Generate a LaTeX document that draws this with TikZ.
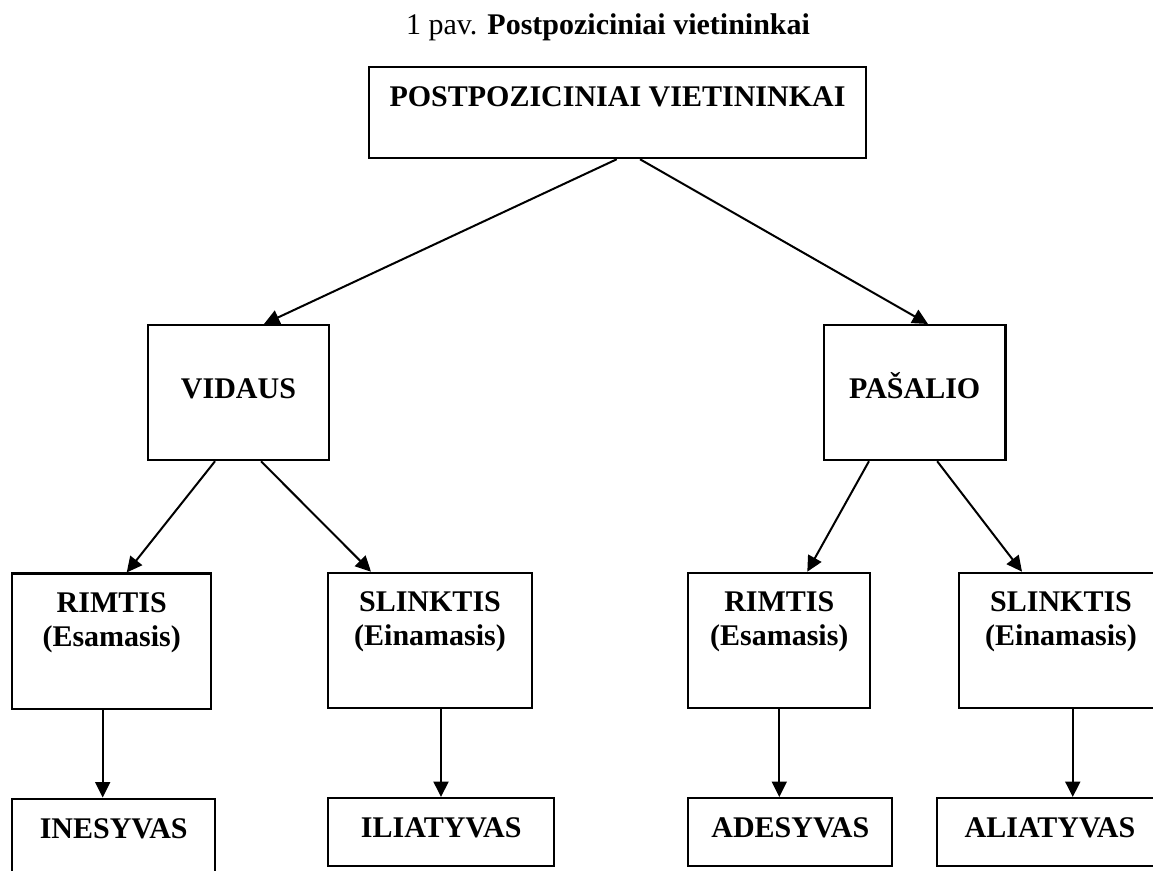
\documentclass[tikz,border=0pt]{standalone}
\usepackage{fontspec}
\setmainfont{Liberation Serif}
\usetikzlibrary{arrows.meta,positioning}
\newcommand{\pavfont}{\fontsize{12pt}{13.8pt}\selectfont}

\tikzset{
  box/.style={draw, line width=0.9pt, inner sep=0pt, anchor=north, align=center, font=\pavfont\bfseries},
  mid/.style={box, text height=29.2pt, text depth=25pt},
  leaf/.style={box, text height=15.9pt, text depth=11.3pt},
  link/.style={line width=0.8pt, -{Triangle[length=6.2pt,width=6pt]}}
}

\begin{document}
\begin{tikzpicture}[x=0.4pt, y=-0.4pt]
\useasboundingbox (0,0) rectangle (1153,871);
\clip (0,0) rectangle (1153,871);
\node[anchor=base, font=\pavfont] (title) at (608,35) {1 pav. \textbf{Postpoziciniai vietininkai}};
\node[box, minimum width=198.8pt, text height=15.6pt, text depth=20.8pt] (root) at (617.5,66) {POSTPOZICINIAI VIETININKAI};
\node[box, minimum width=72.4pt, text height=29.2pt, text depth=24.8pt] (vidaus) at (238.5,324) {VIDAUS};
\node[box, minimum width=72.6pt, text height=29.2pt, text depth=24.8pt] (pasalio) at (914.7,324) {PAŠALIO};
\node[mid, minimum width=79.5pt] (rimtisV) at (111.7,572.5) {RIMTIS\\(Esamasis)};
\node[mid, minimum width=81.4pt] (slinktisV) at (430,571.7) {SLINKTIS\\(Einamasis)};
\node[mid, minimum width=72.8pt] (rimtisP) at (779.3,571.7) {RIMTIS\\(Esamasis)};
\node[mid, minimum width=81.4pt] (slinktisP) at (1061,571.7) {SLINKTIS\\(Einamasis)};
\node[leaf, minimum width=81.1pt, text depth=19.2pt] (ines) at (113.7,797.5) {INESYVAS};
\node[leaf, minimum width=90.4pt] (ilia) at (441.3,797) {ILIATYVAS};
\node[leaf, minimum width=81.6pt] (ades) at (790.3,797) {ADESYVAS};
\node[leaf, minimum width=90.6pt] (alia) at (1050,797) {ALIATYVAS};
\path[link]
([xshift=-0.3pt]root.south) edge ([xshift=10.2pt]vidaus.north)
([xshift=9pt]root.south) edge ([xshift=5.3pt]pasalio.north)
([xshift=-9.4pt]vidaus.south) edge ([xshift=6pt]rimtisV.north)
([xshift=9pt]vidaus.south) edge ([xshift=-23.6pt]slinktisV.north)
([xshift=-18.3pt]pasalio.south) edge ([xshift=11.2pt]rimtisP.north)
([xshift=9pt]pasalio.south) edge ([xshift=-15.6pt]slinktisP.north);
\foreach \from/\to/\dx in {rimtisV/ines/-3.6pt, slinktisV/ilia/4.4pt, rimtisP/ades/0pt, slinktisP/alia/4.7pt}
  \draw[link] ([xshift=\dx]\from.south) -- ([xshift=\dx]\from.south |- \to.north);
\end{tikzpicture}
\end{document}
